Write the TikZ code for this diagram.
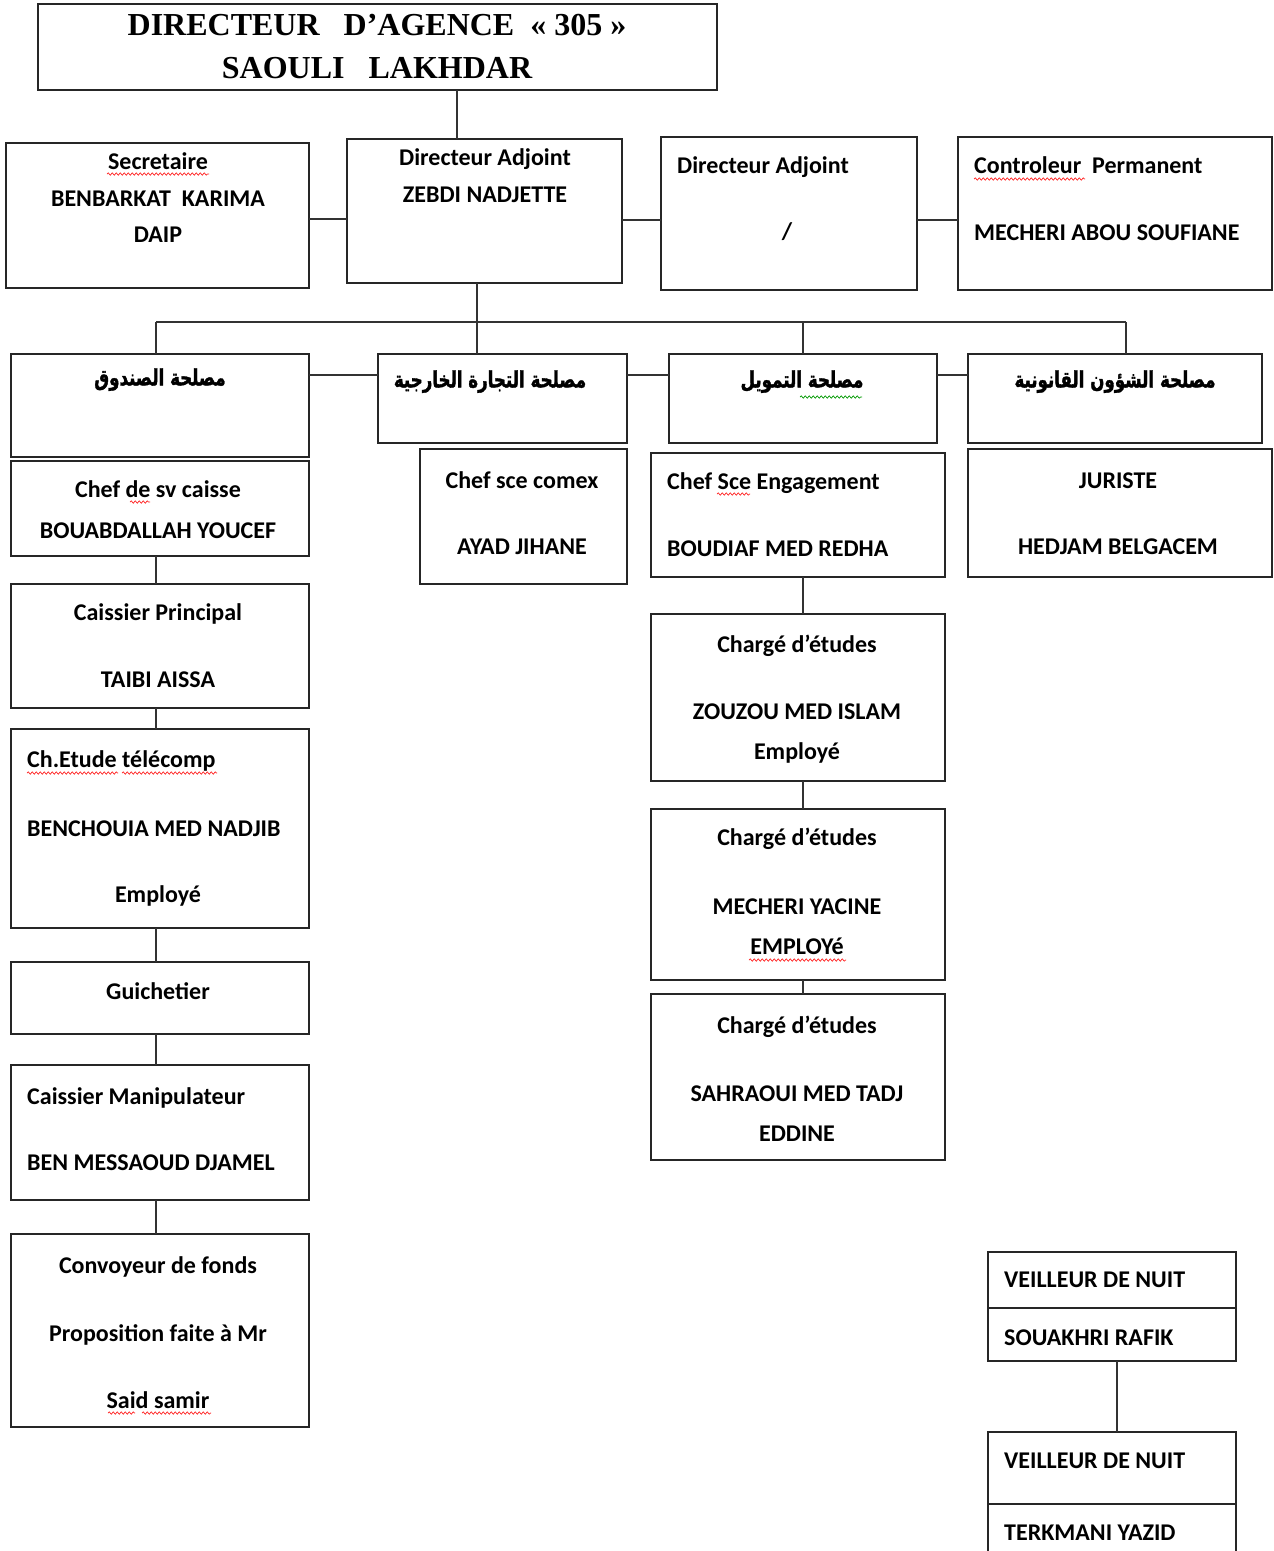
\documentclass[tikz,border=0pt]{standalone}
\usepackage{fontspec}
\setmainfont{Carlito}
\newfontfamily\titlefont{Liberation Serif}
\newfontfamily\arabicfont[Script=Arabic,FakeStretch=0.74,FakeBold=1.5]{DejaVu Sans}
\TeXXeTstate=1
\usetikzlibrary{fit,decorations.pathmorphing}
\begin{document}
\begin{tikzpicture}[x=1pt,y=-1pt,
 box/.style={draw=black!85, line width=1.6pt, inner sep=0pt, outer sep=0pt},
 link/.style={draw=black!80, line width=1.4pt},
 txt/.style={inner sep=0pt, anchor=mid, yshift=-6pt, font=\fontsize{24}{28}\selectfont\bfseries},
 ltxt/.style={txt, anchor=mid west},
 ttl/.style={inner sep=0pt, anchor=mid, yshift=-8pt, font=\fontsize{32}{38}\selectfont\titlefont\bfseries},
 ar/.style={inner sep=0pt, anchor=mid, yshift=-5pt, font=\fontsize{22.5}{26}\selectfont\arabicfont\bfseries},
 spell/.style={draw=red!85, line width=0.7pt, decorate, decoration={snake, amplitude=1.2pt, segment length=4pt}},
 gspell/.style={spell, draw=green!60!black},
]
\clip (0,0) rectangle (1274,1551);
\fill[white] (0,0) rectangle (1274,1551);
% boxes
\node[box, fit={(38,4)(717,90)}] (dir) {};
\node[box, fit={(6,143)(309,288)}] (sec) {};
\node[box, fit={(347,139)(622,283)}] (da1) {};
\node[box, fit={(661,137)(917,290)}] (da2) {};
\node[box, fit={(958,137)(1272,290)}] (ctl) {};
\node[box, fit={(11,354)(309,457)}] (s1) {};
\node[box, fit={(378,354)(627,443)}] (s2) {};
\node[box, fit={(669,354)(937,443)}] (s3) {};
\node[box, fit={(968,354)(1262,443)}] (s4) {};
\node[box, fit={(11,461)(309,556)}] (c1) {};
\node[box, fit={(11,584)(309,708)}] (c2) {};
\node[box, fit={(11,729)(309,928)}] (c3) {};
\node[box, fit={(11,962)(309,1034)}] (c4) {};
\node[box, fit={(11,1065)(309,1200)}] (c5) {};
\node[box, fit={(11,1234)(309,1427)}] (c6) {};
\node[box, fit={(420,449)(627,584)}] (x1) {};
\node[box, fit={(651,453)(945,577)}] (f1) {};
\node[box, fit={(651,614)(945,781)}] (f2) {};
\node[box, fit={(651,809)(945,980)}] (f3) {};
\node[box, fit={(651,994)(945,1160)}] (f4) {};
\node[box, fit={(968,449)(1272,577)}] (j1) {};
\node[box, fit={(988,1252)(1236,1361)}] (v1) {};
\node[box, fit={(988,1432)(1236,1590)}] (v2) {};
\coordinate (v1d) at (0,1308);
\coordinate (v2d) at (0,1504);
\draw[box] (v1.west |- v1d) -- (v1.east |- v1d);
\draw[box] (v2.west |- v2d) -- (v2.east |- v2d);
% connector guide coordinates
\coordinate (kx156) at (156,0);
\coordinate (kx457) at (457,0);
\coordinate (kx477) at (477,0);
\coordinate (kx803) at (803,0);
\coordinate (kx1117) at (1117,0);
\coordinate (kx1126) at (1126,0);
\coordinate (ky219) at (0,219);
\coordinate (ky220) at (0,220);
\coordinate (ky375) at (0,375);
\coordinate (bus) at (0,322);
% connectors
\draw[link] (dir.south -| kx457) -- (da1.north -| kx457);
\draw[link] (sec.east |- ky219) -- (da1.west |- ky219);
\draw[link] (da1.east |- ky220) -- (da2.west |- ky220);
\draw[link] (da2.east |- ky220) -- (ctl.west |- ky220);
\draw[link] (da1.south -| kx477) -- (bus -| kx477);
\draw[link] (bus -| kx156) -- (bus -| kx1126);
\draw[link] (bus -| kx156) -- (s1.north -| kx156);
\draw[link] (bus -| kx477) -- (s2.north -| kx477);
\draw[link] (bus -| kx803) -- (s3.north -| kx803);
\draw[link] (bus -| kx1126) -- (s4.north -| kx1126);
\draw[link] (s1.east |- ky375) -- (s2.west |- ky375);
\draw[link] (s2.east |- ky375) -- (s3.west |- ky375);
\draw[link] (s3.east |- ky375) -- (s4.west |- ky375);
\draw[link] (c1.south -| kx156) -- (c2.north -| kx156);
\draw[link] (c2.south -| kx156) -- (c3.north -| kx156);
\draw[link] (c3.south -| kx156) -- (c4.north -| kx156);
\draw[link] (c4.south -| kx156) -- (c5.north -| kx156);
\draw[link] (c5.south -| kx156) -- (c6.north -| kx156);
\draw[link] (f1.south -| kx803) -- (f2.north -| kx803);
\draw[link] (f2.south -| kx803) -- (f3.north -| kx803);
\draw[link] (f3.south -| kx803) -- (f4.north -| kx803);
\draw[link] (v1.south -| kx1117) -- (v2.north -| kx1117);
% texts
\node[ttl] (dir-t1) at (377,25) {DIRECTEUR\ \ \ D’AGENCE\ \ « 305 »};
\node[ttl] (dir-t2) at (377,68) {SAOULI\ \ \ LAKHDAR};
\node[txt] (sec-t1) at (158,161) {Secretaire};
\node[txt] (sec-t2) at (158,198) {BENBARKAT\ \ KARIMA};
\node[txt] (sec-t3) at (158,234) {DAIP};
\node[txt] (da1-t1) at (485,157) {Directeur Adjoint};
\node[txt] (da1-t2) at (485,194) {ZEBDI NADJETTE};
\node[ltxt] (da2-t1) at (677,165) {Directeur Adjoint};
\node[txt] (da2-t2) at (787,231) {/};
\node[ltxt] (ctl-t1) at (974,165) {Controleur\ \ Permanent};
\node[ltxt] (ctl-t2) at (974,232) {MECHERI ABOU SOUFIANE};
\node[ar] (s1-t) at (160,378) {\beginR مصلحة الصندوق\endR};
\node[ar] (s2-t) at (490,380) {\beginR مصلحة التجارة الخارجية\endR};
\node[ar] (s3-t) at (802,380) {\beginR مصلحة التمويل\endR};
\node[ar] (s4-t) at (1115,380) {\beginR مصلحة الشؤون القانونية\endR};
\node[txt] (c1-t1) at (158,489) {Chef de sv caisse};
\node[txt] (c1-t2) at (158,530) {BOUABDALLAH YOUCEF};
\node[txt] (c2-t1) at (158,612) {Caissier Principal};
\node[txt] (c2-t2) at (158,679) {TAIBI AISSA};
\node[ltxt] (c3-t1) at (27,759) {Ch.Etude télécomp};
\node[ltxt] (c3-t2) at (27,828) {BENCHOUIA MED NADJIB};
\node[txt] (c3-t3) at (158,894) {Employé};
\node[txt] (c4-t1) at (158,991) {Guichetier};
\node[ltxt] (c5-t1) at (27,1096) {Caissier Manipulateur};
\node[ltxt] (c5-t2) at (27,1162) {BEN MESSAOUD DJAMEL};
\node[txt] (c6-t1) at (158,1265) {Convoyeur de fonds};
\node[txt] (c6-t2) at (158,1333) {Proposition faite à Mr};
\node[txt] (c6-t3) at (158,1400) {Said samir};
\node[txt] (x1-t1) at (522,480) {Chef sce comex};
\node[txt] (x1-t2) at (522,546) {AYAD JIHANE};
\node[ltxt] (f1-t1) at (667,481) {Chef Sce Engagement};
\node[ltxt] (f1-t2) at (667,548) {BOUDIAF MED REDHA};
\node[txt] (f2-t1) at (797,644) {Chargé d’études};
\node[txt] (f2-t2) at (797,711) {ZOUZOU MED ISLAM};
\node[txt] (f2-t3) at (797,751) {Employé};
\node[txt] (f3-t1) at (797,837) {Chargé d’études};
\node[txt] (f3-t2) at (797,906) {MECHERI YACINE};
\node[txt] (f3-t3) at (797,946) {EMPLOYé};
\node[txt] (f4-t1) at (797,1025) {Chargé d’études};
\node[txt] (f4-t2) at (797,1093) {SAHRAOUI MED TADJ};
\node[txt] (f4-t3) at (797,1133) {EDDINE};
\node[txt] (j1-t1) at (1118,480) {JURISTE};
\node[txt] (j1-t2) at (1118,546) {HEDJAM BELGACEM};
\node[ltxt] (v1-t1) at (1004,1279) {VEILLEUR DE NUIT};
\node[ltxt] (v1-t2) at (1004,1337) {SOUAKHRI RAFIK};
\node[ltxt] (v2-t1) at (1004,1460) {VEILLEUR DE NUIT};
\node[ltxt] (v2-t2) at (1004,1532) {TERKMANI YAZID};
% spell-check marks
\draw[spell] (107,174) -- (209,174);
\draw[spell] (974,179) -- (1085,179);
\draw[spell] (130,502) -- (150,502);
\draw[spell] (717,494) -- (750,494);
\draw[spell] (27,773) -- (118,773);
\draw[spell] (122,773) -- (217,773);
\draw[spell] (749,960) -- (846,960);
\draw[spell] (108,1413) -- (135,1413);
\draw[spell] (142,1413) -- (211,1413);
\draw[gspell] (800,397) -- (862,397);
\end{tikzpicture}
\end{document}
